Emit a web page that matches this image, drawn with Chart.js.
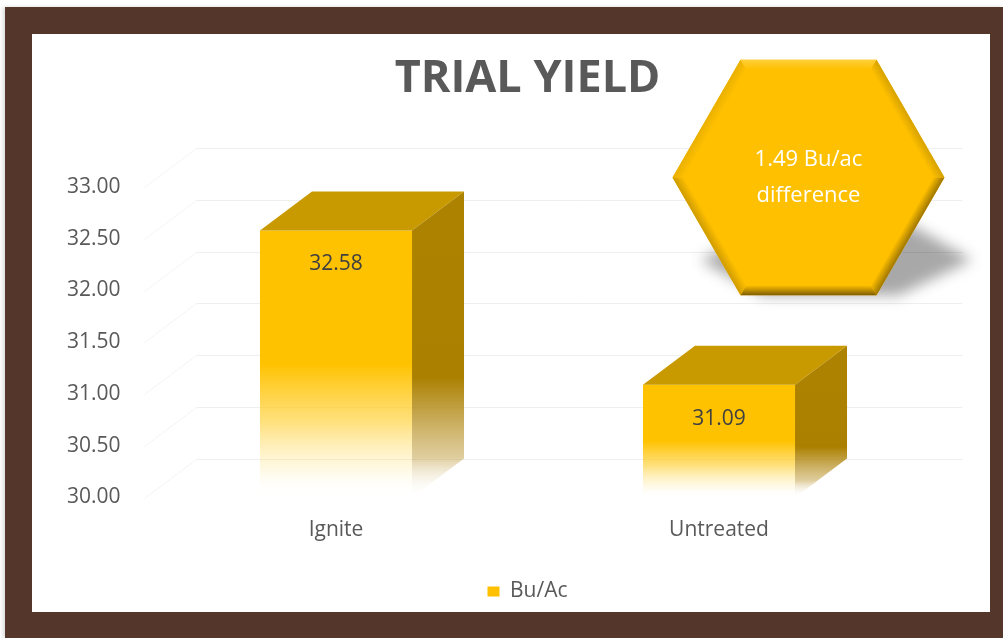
<!DOCTYPE html>
<html>
<head>
<meta charset="utf-8">
<script src="https://cdn.jsdelivr.net/npm/chart.js@4.4.1/dist/chart.umd.min.js"></script>
<style>
  html, body { margin: 0; padding: 0; background: #fff; width: 1003px; height: 638px; overflow: hidden; }
  .frame { position: absolute; left: 5px; top: 7px; width: 998px; height: 631px; background: #54372a; box-shadow: -2px 0 4px rgba(0,0,0,0.15); }
  .panel { position: absolute; left: 27px; top: 27px; width: 958px; height: 578px; background: #fff; }
</style>
</head>
<body>
<div class="frame"><div class="panel"><canvas id="yieldChart" width="958" height="578"></canvas></div></div>
<script>
const categories = ['Ignite', 'Untreated'];
const yieldValues = [32.58, 31.09];
const seriesLabel = 'Bu/Ac';
const yTickValues = [30, 30.5, 31, 31.5, 32, 32.5, 33];

const gold = '#FFC000';
const goldTop = '#C99A00';
const textGray = '#595959';
const depth = { x: 52, y: -39 };

Chart.defaults.font.family = "'Open Sans', sans-serif";

// front face: solid at the top, fading out toward the floor
function frontFill(c) {
  const chart = c.chart;
  const yScale = chart.scales.y;
  if (!chart.chartArea || !yScale || c.dataIndex === undefined) return gold;
  const top = yScale.getPixelForValue(yieldValues[c.dataIndex]);
  const bottom = yScale.getPixelForValue(yScale.min);
  const g = chart.ctx.createLinearGradient(0, top, 0, bottom);
  g.addColorStop(0, '#FFC200');
  g.addColorStop(0.5, '#FFC200');
  g.addColorStop(0.72, 'rgba(255,205,40,0.6)');
  g.addColorStop(0.9, 'rgba(255,228,130,0.2)');
  g.addColorStop(1, 'rgba(255,255,255,0)');
  return g;
}

function poly(ctx, pts) {
  ctx.beginPath();
  ctx.moveTo(pts[0][0], pts[0][1]);
  for (let i = 1; i < pts.length; i++) ctx.lineTo(pts[i][0], pts[i][1]);
  ctx.closePath();
}

const threeD = {
  id: 'threeD',
  beforeDatasetsDraw(chart) {
    const { ctx, chartArea: a, scales: { y } } = chart;
    ctx.save();
    ctx.lineWidth = 1;
    y.ticks.forEach(t => {
      const py = Math.round(y.getPixelForValue(t.value)) + 0.5;
      // side wall (fainter) then back wall
      ctx.strokeStyle = '#F4F4F4';
      ctx.beginPath();
      ctx.moveTo(a.left, py);
      ctx.lineTo(a.left + depth.x, py + depth.y);
      ctx.stroke();
      ctx.strokeStyle = '#EFEFEF';
      ctx.beginPath();
      ctx.moveTo(a.left + depth.x, py + depth.y);
      ctx.lineTo(a.right + depth.x, py + depth.y);
      ctx.stroke();
    });
    ctx.restore();
  },
  afterDatasetsDraw(chart) {
    const { ctx, scales: { y } } = chart;
    const floor = y.getPixelForValue(y.min);
    ctx.save();
    chart.getDatasetMeta(0).data.forEach((bar, i) => {
      const l = bar.x - bar.width / 2, r = bar.x + bar.width / 2, t = bar.y, b = Math.min(bar.base, floor);
      // top face
      ctx.fillStyle = goldTop;
      poly(ctx, [[l, t], [l + depth.x, t + depth.y], [r + depth.x, t + depth.y], [r, t]]);
      ctx.fill();
      // side face
      const g = ctx.createLinearGradient(0, t, 0, b);
      g.addColorStop(0, '#AD8200');
      g.addColorStop(0.55, '#AB8000');
      g.addColorStop(0.85, 'rgba(185,145,40,0.45)');
      g.addColorStop(1, 'rgba(255,255,255,0)');
      ctx.fillStyle = g;
      poly(ctx, [[r, t], [r + depth.x, t + depth.y], [r + depth.x, b + depth.y], [r, b]]);
      ctx.fill();
      // value label
      ctx.fillStyle = '#404040';
      ctx.font = "21px 'Open Sans', sans-serif";
      ctx.textAlign = 'center';
      ctx.textBaseline = 'middle';
      ctx.fillText(yieldValues[i].toFixed(2), bar.x, t + 34);
    });
    ctx.restore();
  }
};

// hexagon callout with the difference
const callout = {
  id: 'callout',
  afterDraw(chart) {
    const { ctx } = chart;
    const cx = 776.5, cy = 143.5, s = 136, bev = 10;
    const hex = (rad) => [0, 60, 120, 180, 240, 300].map(d => [cx + rad * Math.cos(d * Math.PI / 180), cy + rad * Math.sin(d * Math.PI / 180)]);
    const outer = hex(s);
    const inner = hex(s - 2 * bev / Math.sqrt(3));
    const bottomY = outer[1][1];

    // flattened shadow thrown to the lower right
    ctx.save();
    ctx.filter = 'blur(7px)';
    ctx.fillStyle = 'rgba(0,0,0,0.34)';
    poly(ctx, outer.map(([px, py]) => [px + 22 + (bottomY - py) * 0.05, bottomY - (bottomY - py) * 0.3]));
    ctx.fill();
    ctx.restore();

    ctx.save();
    ctx.fillStyle = gold;
    poly(ctx, outer);
    ctx.fill();
    // bevel strips: lower-right, bottom, lower-left, upper-left, top, upper-right
    const edgeColors = ['#9E7600', '#7D5C00', '#CE9B00', '#E9B000', '#FFCF3A', '#D6A200'];
    for (let i = 0; i < 6; i++) {
      const j = (i + 1) % 6;
      const mo = [(outer[i][0] + outer[j][0]) / 2, (outer[i][1] + outer[j][1]) / 2];
      const mi = [(inner[i][0] + inner[j][0]) / 2, (inner[i][1] + inner[j][1]) / 2];
      const g = ctx.createLinearGradient(mo[0], mo[1], mi[0], mi[1]);
      g.addColorStop(0, edgeColors[i]);
      g.addColorStop(1, gold);
      ctx.fillStyle = g;
      poly(ctx, [outer[i], outer[j], inner[j], inner[i]]);
      ctx.fill();
    }
    const diff = (yieldValues[0] - yieldValues[1]).toFixed(2);
    ctx.fillStyle = '#fff';
    ctx.font = "22px 'Open Sans', sans-serif";
    ctx.textAlign = 'center';
    ctx.textBaseline = 'middle';
    ctx.fillText(diff + ' Bu/ac', cx, cy - 18);
    ctx.fillText('difference', cx, cy + 18);
    ctx.restore();
  }
};

new Chart(document.getElementById('yieldChart'), {
  type: 'bar',
  data: {
    labels: categories,
    datasets: [{
      label: seriesLabel,
      data: yieldValues,
      backgroundColor: frontFill,
      borderWidth: 0,
      categoryPercentage: 1,
      barPercentage: 0.397
    }]
  },
  options: {
    responsive: false,
    devicePixelRatio: 1,
    animation: false,
    layout: { padding: { left: 32.5, right: 79.5, top: 0, bottom: 0 } },
    scales: {
      x: {
        grid: { display: false, drawTicks: false },
        border: { display: false },
        ticks: { color: textGray, font: { size: 21 }, padding: 20 },
        afterFit: s => { s.height = 73.5; }
      },
      y: {
        min: yTickValues[0],
        max: yTickValues[yTickValues.length - 1],
        grid: { display: false, drawTicks: false },
        border: { display: false },
        afterBuildTicks: s => { s.ticks = yTickValues.map(v => ({ value: v })); },
        ticks: { color: textGray, font: { size: 21 }, padding: 24, callback: v => Number(v).toFixed(2) },
        afterFit: s => { s.width = 80; }
      }
    },
    plugins: {
      title: {
        display: true,
        fullSize: false,
        text: 'TRIAL YIELD',
        color: textGray,
        font: { size: 45, weight: 'bold' },
        padding: { top: 18, bottom: 81 }
      },
      legend: {
        position: 'bottom',
        fullSize: false,
        labels: {
          color: textGray,
          font: { size: 21 },
          boxWidth: 12,
          boxHeight: 10,
          generateLabels: chart => Chart.defaults.plugins.legend.labels.generateLabels(chart)
            .map(l => ({ ...l, fillStyle: gold, strokeStyle: gold, lineWidth: 0 }))
        }
      },
      tooltip: { enabled: false }
    }
  },
  plugins: [threeD, callout]
});
</script>
</body>
</html>
